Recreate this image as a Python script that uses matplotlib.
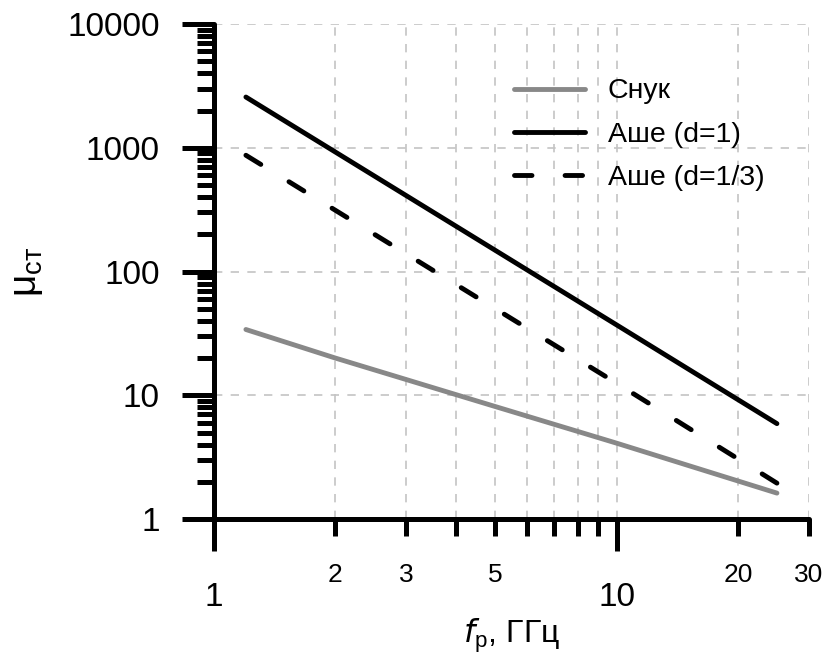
import matplotlib
matplotlib.use("Agg")
import matplotlib.pyplot as plt
from matplotlib.ticker import FixedLocator, FixedFormatter, NullFormatter

plt.rcParams['font.family'] = ['Liberation Sans', 'DejaVu Sans']

freq = [1.2, 2, 5, 10, 25]
snuk = [34, 20, 8.1, 4.1, 1.62]
ashe_d1 = [2570, 925, 148, 37, 5.9]
ashe_d13 = [870, 313, 50, 12.5, 1.95]

labels = ["Снук", "Аше (d=1)", "Аше (d=1/3)"]

x_major = [1, 10]
x_minor = [2, 3, 4, 5, 6, 7, 8, 9, 20, 30]
x_minor_labels = ["2", "3", "", "5", "", "", "", "", "20", "30"]
y_major = [1, 10, 100, 1000, 10000]

fig = plt.figure(figsize=(8.27, 6.6), dpi=100)
ax = fig.add_axes([0.2588, 0.2136, 0.978 - 0.2588, 0.9636 - 0.2136])

lw = 3.5
ax.plot(freq, snuk, color='#888888', lw=lw, solid_capstyle='round', label=labels[0], zorder=3)
ax.plot(freq, ashe_d1, color='black', lw=lw, solid_capstyle='round', label=labels[1], zorder=3)
ax.plot(freq, ashe_d13, color='black', lw=lw, ls=(0, (3.6, 6.8)), dash_capstyle='round', label=labels[2], zorder=3)

ax.set_xscale('log')
ax.set_yscale('log')
ax.set_xlim(1, 30)
ax.set_ylim(1, 10000)

ax.xaxis.set_major_locator(FixedLocator(x_major))
ax.xaxis.set_major_formatter(FixedFormatter([str(v) for v in x_major]))
ax.xaxis.set_minor_locator(FixedLocator(x_minor))
ax.xaxis.set_minor_formatter(FixedFormatter(x_minor_labels))
ax.yaxis.set_major_locator(FixedLocator(y_major))
ax.yaxis.set_major_formatter(FixedFormatter([str(v) for v in y_major]))
ax.yaxis.set_minor_locator(FixedLocator([m * 10 ** e for e in range(4) for m in range(2, 10)]))
ax.yaxis.set_minor_formatter(NullFormatter())

for s in ['top', 'right']:
    ax.spines[s].set_visible(False)
for s in ['left', 'bottom']:
    ax.spines[s].set_linewidth(3.6)
    ax.spines[s].set_capstyle('round')

ax.tick_params(which='major', direction='out', length=23, width=3.6, labelsize=24)
ax.tick_params(which='minor', direction='out', length=12, width=3.6, labelsize=19)
ax.tick_params(axis='x', which='major', pad=22)
ax.tick_params(axis='x', which='minor', pad=19.5)
ax.tick_params(axis='y', which='major', pad=16)
for t in ax.xaxis.get_major_ticks() + ax.xaxis.get_minor_ticks() + ax.yaxis.get_major_ticks() + ax.yaxis.get_minor_ticks():
    t.tick1line.set_solid_capstyle('round')

ax.grid(True, which='major', axis='y', color='#c4c4c4', ls=(0, (5, 5)), lw=1.2)
ax.grid(True, which='both', axis='x', color='#c4c4c4', ls=(0, (5, 5)), lw=1.2)
ax.set_axisbelow(True)

ax.set_xlabel(r"$\mathit{f}$$_{\mathregular{р}}$, ГГц", fontsize=23, labelpad=3)
ax.set_ylabel(r"μ$_{\mathregular{ст}}$", fontsize=28, labelpad=16)

leg = ax.legend(loc='upper left', bbox_to_anchor=(0.485, 0.913), frameon=False, fontsize=20.5,
                handlelength=2.5, handletextpad=0.8, labelspacing=0.6, borderaxespad=0)

fig.savefig("out.png", dpi=100)
